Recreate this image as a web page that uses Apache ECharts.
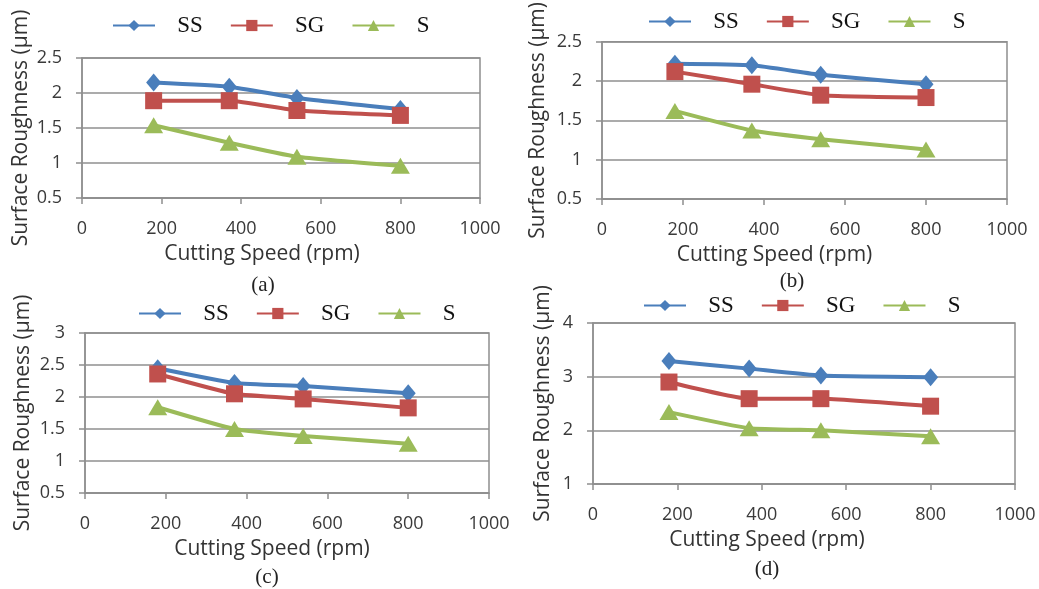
<!DOCTYPE html>
<html>
<head>
<meta charset="utf-8">
<script src="https://cdn.jsdelivr.net/npm/echarts@6/dist/echarts.min.js"></script>
<style>html,body{margin:0;padding:0;background:#fff}#c{width:1039px;height:589px}</style>
</head>
<body>
<div id="c"></div>
<script>
// ---- data ----
const speeds = [180, 370, 540, 800];
const seriesNames = ['SS', 'SG', 'S'];
const panelLabels = ['(a)', '(b)', '(c)', '(d)'];
const xTitle = 'Cutting Speed (rpm)';
const yTitle = 'Surface Roughness (µm)';

const a_SS = [2.15, 2.09, 1.93, 1.77];
const a_SG = [1.89, 1.89, 1.75, 1.68];
const a_S  = [1.54, 1.29, 1.09, 0.96];

const b_SS = [2.22, 2.20, 2.08, 1.96];
const b_SG = [2.12, 1.96, 1.82, 1.79];
const b_S  = [1.62, 1.37, 1.26, 1.13];

const c_SS = [2.45, 2.22, 2.17, 2.06];
const c_SG = [2.36, 2.05, 1.97, 1.83];
const c_S  = [1.84, 1.50, 1.39, 1.27];

const d_SS = [3.29, 3.15, 3.02, 2.99];
const d_SG = [2.90, 2.59, 2.59, 2.45];
const d_S  = [2.34, 2.04, 2.00, 1.89];

const yMin = [0.5, 0.5, 0.5, 1];
const yMax = [2.5, 2.5, 3, 4];
const yStep = [0.5, 0.5, 0.5, 1];

// ---- layout / style ----
const panels = [
  {data: [a_SS, a_SG, a_S], grid: {left: 82, top: 58, width: 398, height: 140}, legend: {left: 112, top: 14}, cap: [263, 285], yGap: 50, xPad: 38},
  {data: [b_SS, b_SG, b_S], grid: {left: 602, top: 39, width: 405, height: 160}, legend: {left: 648, top: 10}, cap: [792, 281], yGap: 53, xPad: 60},
  {data: [c_SS, c_SG, c_S], grid: {left: 85, top: 333, width: 404, height: 160}, legend: {left: 138, top: 302}, cap: [267, 577], yGap: 51, xPad: 30},
  {data: [d_SS, d_SG, d_S], grid: {left: 593, top: 323, width: 422, height: 161}, legend: {left: 643, top: 294}, cap: [767, 569], yGap: 39, xPad: 74}
];
const colors = ['#4A7EBB', '#C0504D', '#9BBB59'];
const symbols = ['diamond', 'rect', 'triangle'];
const symSizes = [[15, 18], 17, [19, 16]];
const gridColor = '#8f8f8f';
const tickColor = '#3a3a3a';

const option = {
  animation: false,
  backgroundColor: '#fff',
  grid: [], xAxis: [], yAxis: [], series: [], legend: [], graphic: []
};

panels.forEach((p, i) => {
  option.grid.push(Object.assign({show: true, borderColor: gridColor, borderWidth: 1.5, backgroundColor: 'transparent'}, p.grid));
  option.xAxis.push({
    type: 'value', gridIndex: i, min: 0, max: 1000, interval: 200,
    name: xTitle, nameLocation: 'middle', nameGap: 46,
    nameTextStyle: {fontFamily: 'Open Sans', fontSize: 21, color: '#333', padding: [0, p.xPad, 0, 0]},
    axisLine: {show: true, lineStyle: {color: gridColor, width: 1.5}},
    axisTick: {show: true, length: 6, lineStyle: {color: gridColor, width: 1.5}},
    axisLabel: {margin: 22, fontFamily: 'Open Sans', fontSize: 18, color: tickColor, formatter: v => String(v)},
    splitLine: {show: false}
  });
  option.yAxis.push({
    type: 'value', gridIndex: i, min: yMin[i], max: yMax[i], interval: yStep[i],
    name: yTitle, nameLocation: 'middle', nameGap: p.yGap,
    nameTextStyle: {fontFamily: 'Open Sans', fontSize: 21, color: '#333'},
    axisLine: {show: true, lineStyle: {color: gridColor, width: 1.5}},
    axisTick: {show: true, length: 6, lineStyle: {color: gridColor, width: 1.5}},
    axisLabel: {margin: 20, fontFamily: 'Open Sans', fontSize: 18, color: tickColor, formatter: v => String(v)},
    splitLine: {show: true, lineStyle: {color: gridColor, width: 1.5}}
  });
  seriesNames.forEach((nm, k) => {
    option.series.push({
      type: 'line', name: nm, xAxisIndex: i, yAxisIndex: i,
      data: speeds.map((x, j) => [x, p.data[k][j]]),
      smooth: 0.15,
      symbol: symbols[k], symbolSize: symSizes[k],
      lineStyle: {color: colors[k], width: 4},
      itemStyle: {color: colors[k]},
      z: 2 + k
    });
  });
  option.legend.push({
    data: seriesNames, left: p.legend.left, top: p.legend.top, orient: 'horizontal',
    itemWidth: 42, itemHeight: 14, itemGap: 27, padding: 0,
    formatter: '   {name}',
    textStyle: {fontFamily: 'Liberation Serif', fontSize: 23, color: '#111'}
  });
  option.graphic.push({
    type: 'text', x: p.cap[0], y: p.cap[1],
    style: {text: panelLabels[i], fontFamily: 'Liberation Serif', fontSize: 21, fill: '#222', align: 'center', verticalAlign: 'middle'}
  });
});

const chart = echarts.init(document.getElementById('c'));
chart.setOption(option);
</script>
</body>
</html>
